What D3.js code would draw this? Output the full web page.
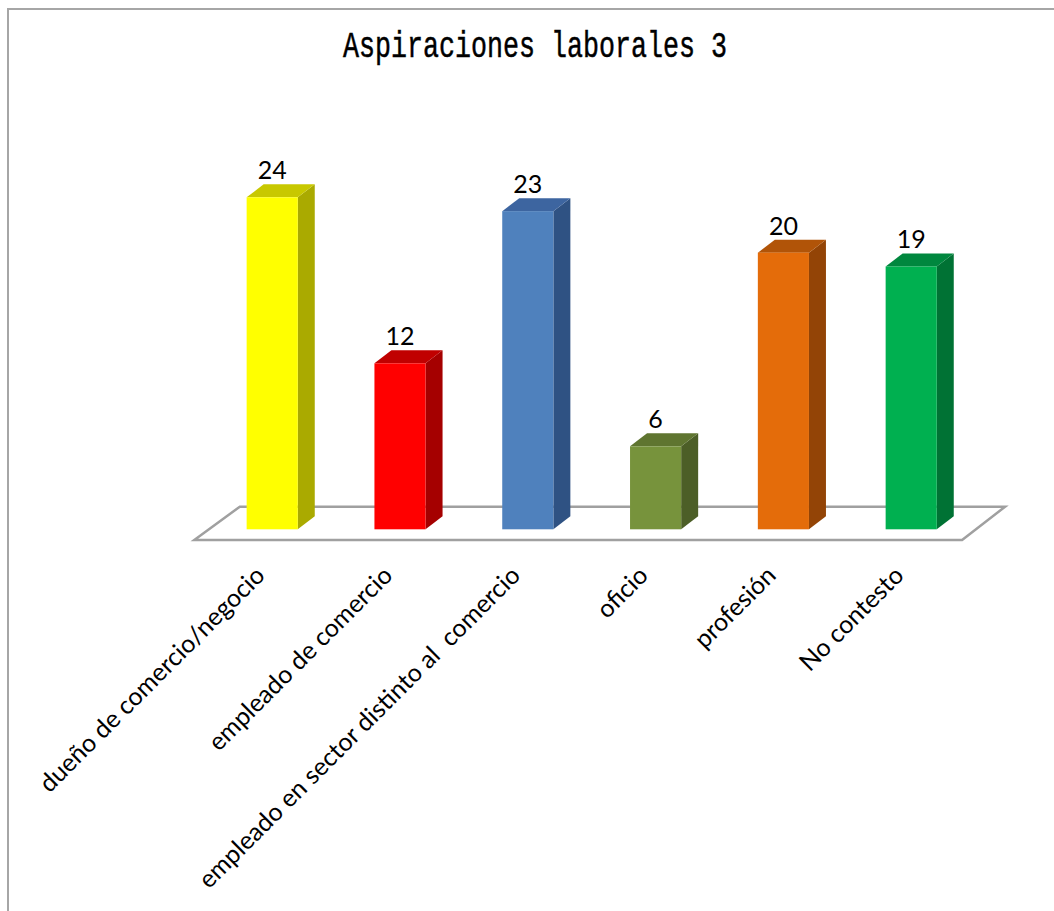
<!DOCTYPE html>
<html>
<head>
<meta charset="utf-8">
<script src="https://cdn.jsdelivr.net/npm/d3@7"></script>
<style>
  html, body { margin: 0; padding: 0; background: #fff; }
  svg { display: block; }
</style>
</head>
<body>
<svg id="chart" width="1054" height="911"></svg>
<script>
// ---- data ----
const categories = [
  "dueño de comercio/negocio",
  "empleado de comercio",
  "empleado en sector distinto al  comercio",
  "oficio",
  "profesión",
  "No contesto"
];
const values = [24, 12, 23, 6, 20, 19];
const title = "Aspiraciones laborales 3";

// ---- styles ----
const frontColors = ["#FFFF00", "#FF0000", "#4F81BD", "#77933C", "#E46C0A", "#00B050"];
const topColors   = ["#C8C800", "#C00000", "#3D65A0", "#5F7530", "#B15408", "#00873E"];
const sideColors  = ["#AAAA00", "#A50000", "#2F5283", "#4C5E27", "#934406", "#007234"];

const W = 1054, H = 911;
const svg = d3.select("#chart");
svg.append("rect").attr("width", W).attr("height", H).attr("fill", "#fff");

// border (right/bottom edges are outside the picture)
svg.append("path")
  .attr("d", `M8,${H} V9 H${W}`)
  .attr("fill", "none").attr("stroke", "#A6A6A6").attr("stroke-width", 2);

// title
svg.append("text")
  .attr("x", 535).attr("y", 57)
  .attr("text-anchor", "middle")
  .attr("font-family", "'Liberation Mono', 'DejaVu Sans Mono', monospace")
  .attr("font-size", 37)
  .attr("textLength", 384).attr("lengthAdjust", "spacingAndGlyphs")
  .attr("fill", "#000").attr("stroke", "#000").attr("stroke-width", 0.5)
  .text(title);

// scales
const x = d3.scaleBand().domain(categories).range([208.3, 975.1])
  .paddingInner(0.6).paddingOuter(0.3);
const y = d3.scaleLinear().domain([0, 24]).range([529.3, 197.3]);

const depthX = 17, depthY = 13;

// floor
const fy0 = 540, fy1 = 506.7;
const fxL = x.range()[0] - 14, fxR = x.range()[1] - 13;
svg.append("path")
  .attr("d", `M${fxL},${fy0} L${fxL + 45.5},${fy1} L${fxR + 43},${fy1} L${fxR},${fy0} Z`)
  .attr("fill", "#fff").attr("stroke", "#A0A0A0").attr("stroke-width", 2.5)
  .attr("stroke-linejoin", "miter");

// bars
const bars = svg.append("g").selectAll("g").data(values).join("g");
bars.each(function(v, i) {
  const g = d3.select(this);
  const x0 = x(categories[i]), x1 = x0 + x.bandwidth();
  const yt = y(v), yb = y(0);
  g.append("path")
    .attr("d", `M${x1},${yt} L${x1 + depthX},${yt - depthY} L${x1 + depthX},${yb - depthY} L${x1},${yb} Z`)
    .attr("fill", sideColors[i]);
  g.append("path")
    .attr("d", `M${x0},${yt} L${x0 + depthX},${yt - depthY} L${x1 + depthX},${yt - depthY} L${x1},${yt} Z`)
    .attr("fill", topColors[i]);
  g.append("rect")
    .attr("x", x0).attr("y", yt)
    .attr("width", x.bandwidth()).attr("height", yb - yt)
    .attr("fill", frontColors[i]);
});

// value labels
svg.append("g").selectAll("text").data(values).join("text")
  .attr("x", (d, i) => x(categories[i]) + x.bandwidth() / 2)
  .attr("y", d => y(d) - 18)
  .attr("text-anchor", "middle")
  .attr("font-family", "Lato, 'Open Sans', sans-serif")
  .attr("font-size", 25)
  .attr("fill", "#000")
  .text(d => d);

// category labels
svg.append("g").selectAll("text").data(categories).join("text")
  .attr("transform", d => `translate(${x(d) + x.bandwidth() / 2 - 6},577) rotate(-45)`)
  .attr("text-anchor", "end")
  .attr("font-family", "Lato, 'Open Sans', sans-serif")
  .attr("font-size", 25)
  .attr("fill", "#000")
  .style("white-space", "pre")
  .text(d => d);
</script>
</body>
</html>
